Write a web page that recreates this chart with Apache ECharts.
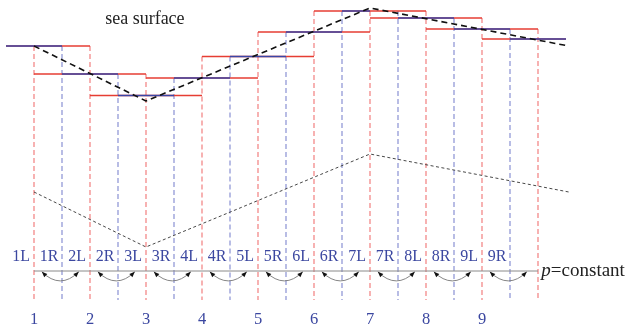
<!DOCTYPE html>
<html>
<head>
<meta charset="utf-8">
<script src="https://cdn.jsdelivr.net/npm/echarts@6/dist/echarts.min.js"></script>
<style>
  html, body { margin: 0; padding: 0; background: #fff; }
  #chart { width: 625px; height: 327px; }
</style>
</head>
<body>
<div id="chart"></div>
<script>
// Pressure points along the section and the free-surface level of each cell
// (depth below the top of the frame, arbitrary units).
const cellIndex = [1, 2, 3, 4, 5, 6, 7, 8, 9, 10];
const cellDepth = [46, 74, 95.5, 78, 56.5, 32, 11, 18, 29, 39];
// Whether the cell-averaged value also covers the right half of the cell.
const blueRightHalf = [true, true, true, true, true, true, false, true, true, true];

// Piecewise-linear sea surface and the parallel p = constant level below it.
const surfaceX = [1, 3, 7, 10.55];
const surfaceDepth = [46, 101, 8, 46];
const isobarDepth = [192, 247, 154, 192];

// Interface labels on either side of each point, and the point numbers.
const leftLabels = ['1L', '2L', '3L', '4L', '5L', '6L', '7L', '8L', '9L'];
const rightLabels = ['1R', '2R', '3R', '4R', '5R', '6R', '7R', '8R', '9R'];
const pointNumbers = ['1', '2', '3', '4', '5', '6', '7', '8', '9'];

// Layout (axis units)
const X_MIN = 0.5, X_MAX = 10.5;
const LABEL_ROW = 257, P_LINE = 271, NUMBER_ROW = 319.5, LINE_BOTTOM = 300;

const RED = '#e63d33', BLUE = '#3a46a6';
const RED_DASH = '#f07373', BLUE_DASH = '#7f87cf';
const TEXT_BLUE = '#3b47a0';
const SERIF = '"Liberation Serif", "DejaVu Serif", serif';

function segmentSeries(segs, style, z) {
  return {
    type: 'custom', coordinateSystem: 'cartesian2d', clip: false, silent: true, z,
    data: segs,
    encode: { x: [0, 2], y: [1, 3] },
    renderItem(params, api) {
      const a = api.coord([api.value(0), api.value(1)]);
      const b = api.coord([api.value(2), api.value(3)]);
      return { type: 'line', shape: { x1: a[0], y1: a[1], x2: b[0], y2: b[1] },
               style: Object.assign({ fill: null }, style) };
    }
  };
}

function textSeries(items, z) {
  // items: [x, y, text, style]
  return {
    type: 'custom', coordinateSystem: 'cartesian2d', clip: false, silent: true, z,
    data: items.map(t => [t[0], t[1]]),
    renderItem(params, api) {
      const it = items[params.dataIndex];
      const p = api.coord([it[0], it[1]]);
      return { type: 'text', x: p[0], y: p[1],
               style: Object.assign({ text: it[2], verticalAlign: 'middle' }, it[3]) };
    }
  };
}

// Red horizontals: each level spans the two neighbouring half-intervals.
const redSegs = cellIndex.map((c, k) =>
  [Math.max(c - 1, X_MIN), cellDepth[k], Math.min(c + 1, X_MAX), cellDepth[k]]);
// Blue horizontals: the cell-averaged level.
const blueSegs = cellIndex.map((c, k) =>
  [c - 0.5, cellDepth[k], blueRightHalf[k] ? Math.min(c + 0.5, X_MAX) : c, cellDepth[k]]);

// Red dashed verticals at each point, from the highest neighbouring level down.
const redVert = cellIndex.map((c, k) => {
  const nb = [cellDepth[k - 1], cellDepth[k], cellDepth[k + 1]].filter(v => v !== undefined);
  return [c, Math.min.apply(null, nb), c, LINE_BOTTOM];
});
// Blue dashed verticals midway between points.
const blueVert = cellIndex.slice(0, -1).map((c, k) =>
  [c + 0.5, Math.min(cellDepth[k], cellDepth[k + 1]), c + 0.5, LINE_BOTTOM]);

const labelStyle = { fill: TEXT_BLUE, font: '16px ' + SERIF, align: 'center' };
const numberStyle = { fill: TEXT_BLUE, font: '16.5px ' + SERIF, align: 'center' };
const sideItems = [];
leftLabels.forEach((t, k) => sideItems.push([cellIndex[k] - 0.23, LABEL_ROW, t, labelStyle]));
rightLabels.forEach((t, k) => sideItems.push([cellIndex[k] + 0.27, LABEL_ROW, t, labelStyle]));
pointNumbers.forEach((t, k) => sideItems.push([cellIndex[k], NUMBER_ROW, t, numberStyle]));
sideItems.push([2.98, 19, 'sea surface', { fill: '#222', font: '18px ' + SERIF, align: 'center' }]);
sideItems.push([10.06, P_LINE, '{i|p}=constant', {
  fill: '#222', font: '19px ' + SERIF, align: 'left',
  rich: { i: { fontStyle: 'italic', fontFamily: SERIF, fontSize: 19, fill: '#222' } }
}]);

// Curved exchange arrows under the p = constant line.
const arcSeries = {
  type: 'custom', coordinateSystem: 'cartesian2d', clip: false, silent: true, z: 6,
  data: cellIndex.slice(0, -1),
  renderItem(params, api) {
    const c = api.value(0);
    const s = api.coord([c + 0.14, P_LINE + 0.8]);
    const e = api.coord([c + 0.80, P_LINE + 0.8]);
    const cp = api.coord([c + 0.47, P_LINE + 19]);
    const head = (tip, from) => {
      const dx = from[0] - tip[0], dy = from[1] - tip[1];
      const L = Math.hypot(dx, dy), ux = dx / L, uy = dy / L;
      const bx = tip[0] + ux * 5.5, by = tip[1] + uy * 5.5;
      return { type: 'polygon',
        shape: { points: [tip, [bx - uy * 2.2, by + ux * 2.2], [bx + uy * 2.2, by - ux * 2.2]] },
        style: { fill: '#111', stroke: null } };
    };
    return { type: 'group', children: [
      { type: 'bezierCurve',
        shape: { x1: s[0], y1: s[1], x2: e[0], y2: e[1], cpx1: cp[0], cpy1: cp[1] },
        style: { stroke: '#777', lineWidth: 0.9, fill: null } },
      head(s, cp), head(e, cp)
    ] };
  }
};

const chart = echarts.init(document.getElementById('chart'), null, { renderer: 'canvas' });
chart.setOption({
  animation: false,
  backgroundColor: '#fff',
  grid: { left: 6, top: 0, width: 565.6, height: 327 },
  xAxis: { type: 'value', min: 0.5, max: 10.6, show: false },
  yAxis: { type: 'value', min: 0, max: 327, inverse: true, show: false },
  series: [
    segmentSeries(redVert, { stroke: RED_DASH, lineWidth: 1.1, lineDash: [5, 3] }, 1),
    segmentSeries(blueVert, { stroke: BLUE_DASH, lineWidth: 1.1, lineDash: [5, 3] }, 1),
    segmentSeries([[cellIndex[0], P_LINE, cellIndex[9], P_LINE]], { stroke: '#8a8a8a', lineWidth: 1 }, 2),
    segmentSeries(redSegs, { stroke: RED, lineWidth: 1.5 }, 3),
    segmentSeries(blueSegs, { stroke: BLUE, lineWidth: 1.5 }, 4),
    {
      type: 'line', z: 5, silent: true, symbol: 'none',
      data: surfaceX.map((x, k) => [x, surfaceDepth[k]]),
      lineStyle: { color: '#111', width: 1.6, type: [6, 4] }
    },
    {
      type: 'line', z: 5, silent: true, symbol: 'none',
      data: surfaceX.map((x, k) => [x, isobarDepth[k]]),
      lineStyle: { color: '#333', width: 0.9, type: [3, 2.5] }
    },
    arcSeries,
    textSeries(sideItems, 7)
  ]
});
</script>
</body>
</html>
